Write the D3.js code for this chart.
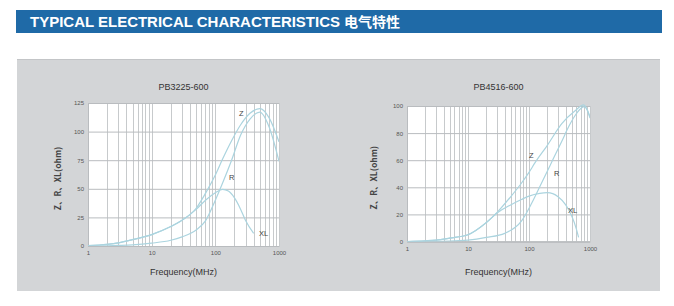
<!DOCTYPE html>
<html>
<head>
<meta charset="utf-8">
<script src="https://cdn.jsdelivr.net/npm/d3@7"></script>
<style>
  html, body { margin: 0; padding: 0; background: #ffffff; }
  svg { display: block; }
</style>
</head>
<body>
<svg id="chart" width="674" height="306"></svg>
<script>
// ---- PB3225-600 ----
const pb3225ZFreq  = [1, 2, 3, 5, 10, 20, 30, 50, 70, 100, 130, 180, 250, 350, 500, 700, 1000];
const pb3225Z      = [0.3, 1.5, 2.8, 5.5, 10, 17, 22.5, 33, 46, 62, 76, 92, 106, 116, 120, 112, 91];
const pb3225RFreq  = [1, 2, 3, 5, 10, 20, 30, 50, 70, 100, 130, 180, 250, 350, 500, 700, 1000];
const pb3225R      = [0, 0.2, 0.5, 1, 2.5, 5, 8, 14, 22, 40, 55, 75, 97, 111, 117, 104, 74];
const pb3225XLFreq = [1, 2, 3, 5, 10, 20, 30, 50, 70, 100, 130, 160, 200, 250, 300, 400];
const pb3225XL     = [0.3, 1.5, 2.8, 5.5, 10, 17, 22.5, 32, 40, 46.5, 49.5, 48, 42, 32, 22, 11];
const pb3225YTicks = [0, 25, 50, 75, 100, 125];

// ---- PB4516-600 ----
const pb4516ZFreq  = [1, 2, 3, 5, 10, 20, 30, 50, 75, 100, 125, 200, 345, 570, 790, 1000];
const pb4516Z      = [0, 0.5, 1, 2.5, 5, 14, 21.5, 33, 43, 51, 58, 71, 87, 96.5, 100.8, 92];
const pb4516RFreq  = [1, 5, 10, 20, 40, 75, 110, 160, 250, 345, 450, 570, 700, 800, 900, 1000];
const pb4516R      = [0, 0.3, 1, 3, 6, 15, 28, 43, 61, 74, 85, 93, 98, 99.5, 97, 91];
const pb4516XLFreq = [1, 2, 3, 5, 10, 20, 30, 50, 75, 100, 150, 200, 300, 400, 500, 600, 650];
const pb4516XL     = [0, 0.5, 1, 2.5, 5, 14, 21, 27, 31, 33.5, 35.5, 36, 33, 27, 19, 9, 3];
const pb4516YTicks = [0, 20, 40, 60, 80, 100];

const xTickLabels = [1, 10, 100, 1000];
const headerText = "TYPICAL ELECTRICAL CHARACTERISTICS";
const headerCjk = "电气特性";

const svg = d3.select("#chart");

// header bar
svg.append("rect").attr("x", 16).attr("y", 10).attr("width", 646).attr("height", 23)
  .attr("fill", "#1f6aa7");
svg.append("text").attr("x", 30).attr("y", 27)
  .attr("font-family", "'Liberation Sans', Arial, sans-serif").attr("font-weight", "bold")
  .attr("font-size", 14).attr("fill", "#ffffff")
  .attr("textLength", 310).attr("lengthAdjust", "spacingAndGlyphs")
  .text(headerText);
svg.append("text").attr("x", 344).attr("y", 27)
  .attr("font-family", "'Noto Sans CJK SC', sans-serif").attr("font-weight", "bold")
  .attr("font-size", 14).attr("fill", "#ffffff")
  .text(headerCjk);

// gray panel
svg.append("rect").attr("x", 17).attr("y", 59).attr("width", 643).attr("height", 232)
  .attr("fill", "#d3d5d7");
svg.append("line").attr("x1", 17).attr("x2", 660).attr("y1", 59.5).attr("y2", 59.5)
  .attr("stroke", "#c3c5c7").attr("stroke-width", 1);

const curveColor = "#abd4df";
const gridColor = "#b9bcbf";
const vGridColor = "#c7cacc";
const textFont = "'Liberation Sans', Arial, sans-serif";

function drawChart(cfg) {
  const x = d3.scaleLog().domain([1, 1000]).range([cfg.x0, cfg.x1]);
  const y = d3.scaleLinear().domain([0, cfg.yMax]).range([cfg.y0, cfg.y1]);
  const g = svg.append("g");

  g.append("rect").attr("x", cfg.x0).attr("y", cfg.y1)
    .attr("width", cfg.x1 - cfg.x0).attr("height", cfg.y0 - cfg.y1)
    .attr("fill", "#ffffff");

  // vertical grid (1..9 per decade)
  const minor = [];
  for (let d = 1; d <= 100; d *= 10) for (let k = 1; k <= 9; k++) minor.push(d * k);
  minor.push(1000);
  g.append("g").selectAll("line").data(minor).join("line")
    .attr("x1", d => Math.round(x(d)) + 0.5).attr("x2", d => Math.round(x(d)) + 0.5)
    .attr("y1", cfg.y1).attr("y2", cfg.y0)
    .attr("stroke", vGridColor).attr("stroke-width", 1);

  // horizontal grid + y labels
  const yAxis = d3.axisLeft(y).tickValues(cfg.yTicks).tickSize(-(cfg.x1 - cfg.x0))
    .tickPadding(4).tickFormat(d3.format("d"));
  const ya = g.append("g").attr("transform", `translate(${cfg.x0},0)`).call(yAxis);
  ya.select(".domain").attr("stroke", gridColor);
  ya.selectAll(".tick line").attr("stroke", gridColor);
  ya.selectAll(".tick text").attr("font-family", textFont).attr("font-size", 6)
    .attr("fill", "#555");

  // x labels
  const xAxis = d3.axisBottom(x).tickValues(xTickLabels).tickSize(0)
    .tickPadding(5).tickFormat(d3.format("d"));
  const xa = g.append("g").attr("transform", `translate(0,${cfg.y0})`).call(xAxis);
  xa.select(".domain").attr("stroke", gridColor);
  xa.selectAll(".tick text").attr("font-family", textFont).attr("font-size", 6)
    .attr("fill", "#555");

  // curves
  const clipId = "clip" + cfg.id;
  svg.append("defs").append("clipPath").attr("id", clipId)
    .append("rect").attr("x", cfg.x0).attr("y", cfg.y1 - 3)
    .attr("width", cfg.x1 - cfg.x0).attr("height", cfg.y0 - cfg.y1 + 3);
  const line = d3.line().x(d => x(d[0])).y(d => y(d[1])).curve(d3.curveMonotoneX);
  const cg = g.append("g").attr("clip-path", `url(#${clipId})`);
  cfg.series.forEach(s => {
    cg.append("path").datum(d3.zip(s.f, s.v))
      .attr("d", line).attr("fill", "none")
      .attr("stroke", curveColor).attr("stroke-width", 1.2);
  });

  // series labels
  cfg.labels.forEach(l => {
    g.append("text").attr("x", l.x).attr("y", l.y)
      .attr("font-family", textFont).attr("font-size", 7.5).attr("fill", "#444")
      .text(l.t);
  });

  // title
  g.append("text").attr("x", (cfg.x0 + cfg.x1) / 2).attr("y", 90)
    .attr("text-anchor", "middle").attr("font-family", textFont)
    .attr("font-size", 9).attr("fill", "#333").text(cfg.title);

  // axis titles
  g.append("text").attr("x", (cfg.x0 + cfg.x1) / 2).attr("y", cfg.xTitleY)
    .attr("text-anchor", "middle").attr("font-family", textFont)
    .attr("font-size", 9).attr("fill", "#333").text("Frequency(MHz)");
  g.append("text")
    .attr("transform", `translate(${cfg.yTitleX},${(cfg.y0 + cfg.y1) / 2 + 4}) rotate(-90)`)
    .attr("text-anchor", "middle").attr("font-family", "'Noto Sans CJK SC', sans-serif")
    .attr("font-size", 8.5).attr("font-weight", "bold").attr("fill", "#444")
    .text("Z、R、XL(ohm)");
}

drawChart({
  id: "a", title: "PB3225-600",
  x0: 88, x1: 279, y0: 246, y1: 103, yMax: 125, yTicks: pb3225YTicks,
  xTitleY: 275, yTitleX: 61,
  series: [
    { f: pb3225ZFreq, v: pb3225Z },
    { f: pb3225RFreq, v: pb3225R },
    { f: pb3225XLFreq, v: pb3225XL }
  ],
  labels: [
    { t: "Z", x: 239, y: 116 },
    { t: "R", x: 229, y: 180 },
    { t: "XL", x: 259, y: 236 }
  ]
});

drawChart({
  id: "b", title: "PB4516-600",
  x0: 407, x1: 590, y0: 241.5, y1: 106, yMax: 100, yTicks: pb4516YTicks,
  xTitleY: 275, yTitleX: 377,
  series: [
    { f: pb4516ZFreq, v: pb4516Z },
    { f: pb4516RFreq, v: pb4516R },
    { f: pb4516XLFreq, v: pb4516XL }
  ],
  labels: [
    { t: "Z", x: 529, y: 158 },
    { t: "R", x: 554, y: 176 },
    { t: "XL", x: 568, y: 213 }
  ]
});
</script>
</body>
</html>
